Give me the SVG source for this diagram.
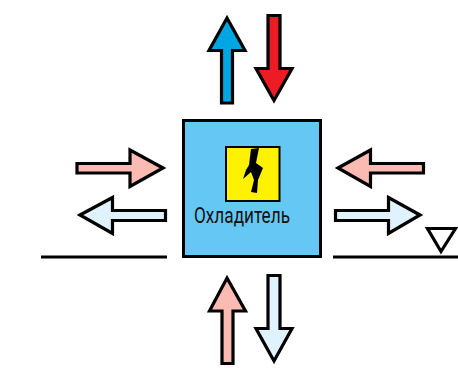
<svg xmlns="http://www.w3.org/2000/svg" width="458" height="368" viewBox="0 0 458 368">
<style>
.a{stroke:#000;stroke-width:3.200;stroke-miterlimit:10;stroke-linejoin:miter}
.blue{fill:#00a6e2}.red{fill:#ed1c24}.pink{fill:#fbbab2}.light{fill:#dff2fd}
.l{stroke:#000;stroke-width:3;fill:none}
text{font-family:"Roboto","Liberation Sans",sans-serif;font-size:22px;fill:#111}
</style>
<rect width="458" height="368" fill="#fff"/>
<g id="connectors">
<path class="a blue" d="M227 18L245 50.500H232.500V103H221.500V50.500H209Z"/>
<path class="a red" d="M274 100.500L292 68.500H280V15.500H268V68.500H256Z"/>
<path class="a pink" d="M163 168L130 150V163.500H77V173H130V186.500Z"/>
<path class="a light" d="M80 215L112.500 197.500V210.500H165.500V220.500H112.500V233.500Z"/>
<path class="a pink" d="M338 168L370.500 150V163.500H423.500V173H370.500V186.500Z"/>
<path class="a light" d="M420 215L388.500 197.500V210.500H335.500V220.500H388.500V233.500Z"/>
<path class="a pink" d="M227 278L245.500 311H233V363.500H222V311H209.500Z"/>
<path class="a light" d="M274 361L292 328.500H280V275.500H268V328.500H256Z"/>
<path class="l" d="M41 257H167M333 257H458"/>
<path class="a" fill="#fff" stroke-width="2.500" d="M427.500 228.500H455.500L441 251.500Z"/>
</g>
<g id="cooler">
<rect x="183.500" y="120.500" width="137" height="136" fill="#65c8f4" stroke="#000" stroke-width="3"/>
<rect x="226" y="147" width="53.500" height="54" fill="#fff200" stroke="#000" stroke-width="2"/>
<path fill="#000" d="M251 149L259 148L256 163L263 168L258 180L257 193L251 192L254 180L251 172L243 179L246 170L249 165Z"/>
<text x="194" y="223" textLength="96" lengthAdjust="spacingAndGlyphs">Охладитель</text>
</g>
</svg>
